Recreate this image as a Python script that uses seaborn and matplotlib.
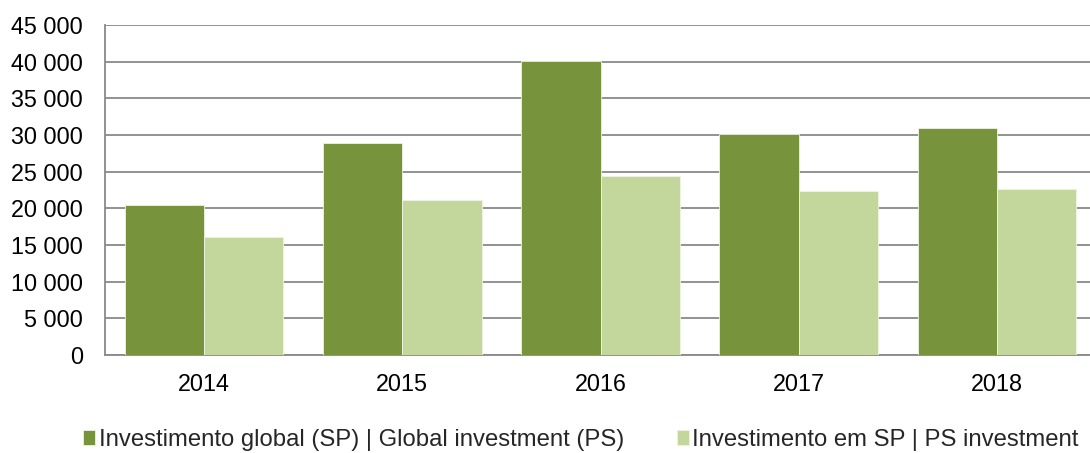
import pandas as pd
import matplotlib.pyplot as plt
import seaborn as sns
from matplotlib.ticker import FuncFormatter

# values
years = ['2014', '2015', '2016', '2017', '2018']
global_inv = [20500, 28900, 40100, 30100, 31000]
ps_inv = [16100, 21200, 24400, 22400, 22700]
series_names = ['Investimento global (SP) | Global investment (PS)',
                'Investimento em SP | PS investment']

df = pd.DataFrame({
    'year': years * 2,
    'value': global_inv + ps_inv,
    'series': [series_names[0]] * len(years) + [series_names[1]] * len(years),
})

sns.set_style('white')
plt.rcParams['font.family'] = ['Liberation Sans', 'DejaVu Sans']

fig = plt.figure(figsize=(10.9, 4.53), dpi=100)
# plot area runs slightly past the right edge of the image
ax = fig.add_axes([105 / 1090, 1 - 355 / 453, 991 / 1090, 330 / 453])

sns.barplot(data=df, x='year', y='value', hue='series', width=0.8,
            palette=['#77933C', '#C3D69B'], saturation=1,
            edgecolor='#eef4e2', linewidth=0.6, ax=ax, zorder=3)

ax.set_ylim(0, 45000)
ax.set_xlim(-0.5, 4.5)
ax.set_yticks(range(0, 45001, 5000))
ax.yaxis.set_major_formatter(FuncFormatter(lambda v, p: f'{int(v):,}'.replace(',', ' ')))
ax.grid(axis='y', color='#898989', linewidth=1.3, zorder=0)
ax.set_xlabel('')
ax.set_ylabel('')

for s in ['top', 'right']:
    ax.spines[s].set_visible(False)
for s in ['left', 'bottom']:
    ax.spines[s].set_color('#898989')
    ax.spines[s].set_linewidth(1.3)

ax.tick_params(axis='y', labelsize=16.8, colors='black', pad=16, length=0)
ax.tick_params(axis='x', labelsize=16.8, colors='black', pad=13, length=0)

ax.legend(loc='center', bbox_to_anchor=(581 / 1090, 1 - 440 / 453),
          bbox_transform=fig.transFigure, ncol=2, frameon=False,
          fontsize=17.2, handlelength=0.5, handleheight=0.55,
          handletextpad=0.15, columnspacing=2.2, borderpad=0)

plt.savefig('out.png', dpi=100)
